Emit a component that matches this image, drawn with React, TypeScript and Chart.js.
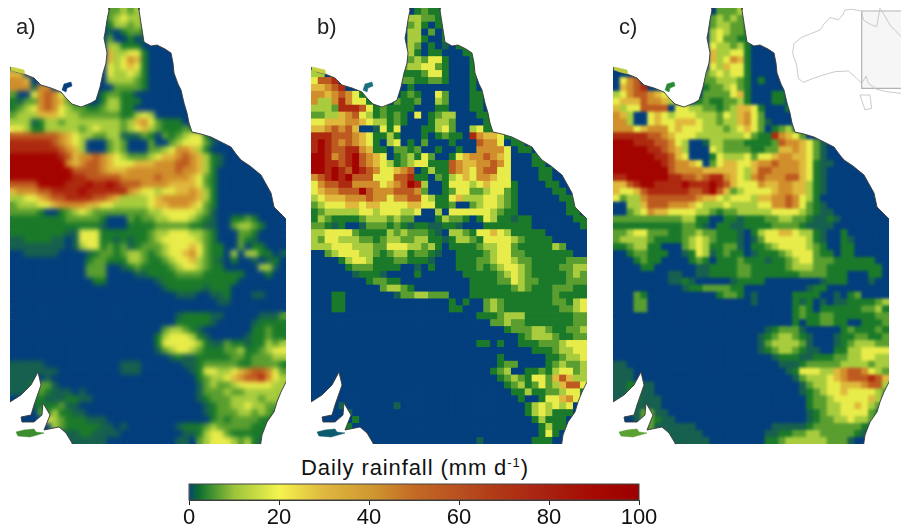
import React, { useEffect, useRef } from "react";
import { Chart, registerables } from "chart.js";

Chart.register(...registerables);

const COLS = 40;
const ROWS = 63;
const PANEL_W = 276;
const PANEL_H = 436;

const levelColors = ["#033e7d", "#17604f", "#1b7a2a", "#5a9e30", "#a8cc3e", "#e8ec4a", "#dfb83c", "#d08e2c", "#bd5a20", "#ad2a10", "#a30400"];
const levelChars = "0123456789X";

const panelARows = [
"0000000000 0000334343","0000000000 0000345443","0000000000 0000244343","0000000000 0000102332","0000000000 0000300201",
"0000000000 0000442220 0","0000000000 0000644552 0","0000000000 0000645762 0","0000000000 0000545652 0","6600000000 0000544542 0",
"7760000000 0000444432","7771770000 0000033332","3005787532 0002332200","2133787632 2002442220 0","2345787543 3223442200 0",
"3444666544 3333332245 4000","4441244344 4444443467 5322 2000","5542244444 3454443456 4322 2320","8888888765 4433441113 2032 3455 2","9999998765 4000343000 3003455531",
"9999999876 4000343000 3345776420","XXXXXXX986 7787654333 4566787642 1","XXXXXXXX76 7887655566 6777887642 1","XXXXXXXXX8 8887666777 7777877642","XXXXXXXXX9 9888887777 7877776532",
"8888XXXX99 9X99X98887 7776666532","6777889999 X999999765 5455667642","4455678899 9988764444 5677777642","3444556777 7665544444 5667776532","3333200234 5433333333 4455555431",
"2222222233 3332000323 3445554321 0022320","2222222222 2221000222 2333332211 0034432","2222222211 5552222222 3445554432 0003320","1122221101 5552212122 3455555432 0003210","1111111101 4552323123 3345556532 2003022",
"0011111000 0123323443 2345567532 2040442201","0000000000 0233222443 2234556432 1020010120","0000000000 0333001232 2223455432 2000004410","0000000000 0333000011 2222333322 2222000200","0000000000 0022000000 0122222222 2220000000",
"0000000000 0000000000 0012222212 2200000000","0000000000 0000000000 0000111001 1200011000","0000000000 0000000000 0000000000 1100000000","","0000000000 0000000000 0000122221 1000001113",
"0000000000 0000000000 0000222221 0000012222","0000000000 0000000000 0034432100 0000022322","0000000000 0000000000 0245554210 0000122322","0000000000 0000000000 0255555421 1322122434","0000000000 0000000000 0134554322 2334223455",
"0000000000 0000000000 0001211222 2233233344","1111100000 0000001110 0000011233 3332233332","1111111000 0000001110 0000001255 4456788753","1111010000 0000000000 0000000234 4567889754","1112331000 0000000000 0000000134 3345555544",
"1112321110 1000000000 0000000133 3433444444","0012211122 1100000000 0000000123 3344443443","0011222311 0000000000 0000000012 3344544333","0000324221 1000000000 0000000012 3334434322","0000054322 2111000000 0000000002 3233332221",
"0000004322 2221101000 0000122234 3333322200","1221111111 2211110000 0000011245 5322222000","1221111111 1111000000 0000110345 5543421000",
];

const panelBRows = [
"0000000000 0000023224","0000000000 0000443320","0000000000 0000342022","0000000000 0000440302","0000000000 0000442002",
"0000000000 0000430201 0222","0000000000 0000420220 0022 2","0000000000 0000343552 0002","0000000000 0003445532 0002","4400000000 0002223552 0002",
"5889000000 0003322332 0002","6678900000 0000200000 0002","7767875200 0002320053 00022","7447975520 0032230043 00022","4443999852 3222200022 00022",
"3344678542 3232050234 4000222","5566677654 4232000244 3000022","6678786001 5250002245 3004522","9998887652 2420002023 2209766522","9X98787652 0450203000 2000877502 2",
"9X98899762 2033230020 0200777750 22","XX9789X876 5023425300 2567787650 0022","XX9989X876 5423455222 8766778750 0022","XX9X98X987 5567802422 8765788550 00022","789X9X8885 5588922032 4565776550 00022",
"5788997777 5678X94002 5554565552 000022","5677888X87 7788873002 3553345532 0000022","4566677787 7577885422 5644455432 00000022","3455566566 5555665522 3003455432 000000022","2344444554 5554450040 5555554322 000000022",
"2432222344 4343300024 3320254221 2200000022","3321200133 3232122112 2100022222 2200000002","4455553222 2434333210 4432556542 2222000000","4355444332 3443344221 2443255554 3222200000","4445554443 3555443420 2222344553 2222243000",
"0034555443 2344233210 0222234553 3222222200","0000245542 2233222100 0222334554 3322222333","0000023332 2220010200 0222323455 4322223344","0000001222 1000020000 0022222345 4322222343","0000000023 3220000000 0002222335 4332222333",
"0000000000 3443200000 0002222223 4322233322","0002200000 0013344333 0002222222 2222232222","0002200000 0000000000 2020034322 2222233245","0002200000 0000000000 2200034322 2222223345","0000000000 0000000000 0000222344 4222222233",
"0000000000 0000000000 0000003343 3222222233","0000000000 0000000000 0000000023 3344322334","0000000000 0000000000 0000000000 2344432233","0000000000 0000000000 0000220200 2223334555","0000000000 0000000000 0000000000 0022234455",
"0000000000 0000000000 0000000200 0000223445","0000000000 0000000000 0000000233 0000234334","0000000000 0000000000 0000002340 0223245534","0000000000 0000000000 0000000234 3255368644","0000000000 0000000000 0000000023 4235346885",
"0000000000 0000000000 0000000002 2422334552","0000000000 0000000000 0000000000 2002556752","0000100000 0010000000 0000000000 0245454500","0000010000 0000000000 0000000000 0245422200","0000002000 0000000000 0000000000 0024222000",
"0000220000 0000000000 0000000000 0002422000","2200210000 0000000000 0000000000 0002520000","2210002000 0000000000 0000100000 0022200000",
];

const panelCRows = [
"0000000000 0000033342","0000000000 0000343432","0000000000 0000344332","0000000000 0000454332","0000000000 0000453322 0",
"0000000000 0000544342 0","0000000000 0000644552 00","0000000000 0000645762 0","0000000000 0000546552 0","0000000000 0003454552 0",
"0578000000 0003344432 02","0678900000 0002334532 0","4578876540 0003333562 00022","5666877640 0023223342 00022","6455888805 5443323466 5200 02",
"7640056545 5544435467 5300","7740056556 6654434467 5310","7775677756 5554443456 5302342","9999988765 5544444445 32297653","XXX9998875 4001443332 2223877653 1",
"XXXXX99876 4000543333 2233667653 1","XXXXXX9986 5000254445 3556776653 1","XXXXXXX987 7650356655 6778777652 11","XXXXXXXX87 7776666654 6887777652 10","99XXXXXX99 8878997654 7877788652 1",
"6689XX9999 X999X98655 5766776642 1","6556899999 9889X86345 5556776642 1","5344788888 8876654555 4667787542","0044688877 7654445444 4557787532 1","0034576655 5544323344 4445555432 11",
"3333333333 4422002212 2233443321 121","2222222222 3321022112 2223333211 11","3345533322 3343322210 2455665442 1002000000","3444432222 3454322210 1355555542 1002100000","2234422000 3454223310 2234555543 2002200000",
"0023322200 1254123220 1222345553 2202200000","0002322000 0232022232 2212234553 3322222200","0000220000 0011222233 2222234443 3222222220","0000000011 0011222233 2222222333 3222000220","0000000011 2100000122 2200000000 1222000100",
"0000000000 1223333220 0000000012 2000000000","0003200000 0000023320 1000002222 0010230000","0003300000 0000000000 1000002120 1011222234","0003300000 0000000000 0000002320 2222223342","0000000000 0000000000 0000002322 3322222233",
"0000000000 0000000000 0000002022 3322002223","0000000000 0000000000 0012333100 0002322232","0000000000 0000000000 0123443210 0012233223","0000000000 0000000000 0134444310 0012344433","0000000000 0000000000 0123443211 0022445555",
"0000000000 0000000000 0001222112 2233445544","1100000000 0000000000 0000111233 3334444344","1110000000 0000000000 0000012555 4467887543","1110000000 0000000000 0000001344 4567888986","1122110000 0000000000 0000000134 4556667884",
"1122110000 0000000000 0000000123 4556555543","1122111000 0000000000 0000000023 3455555642","0011111000 0000000000 0000000023 3445565432","0011331100 0000000000 0000000012 3445555320","0001332110 0000000000 0000000012 3344544310",
"0000231111 1100000000 0001111123 3333332100","3322121111 1110000000 0011223344 3333321000","1221122111 1111000000 0022344444 4333100000",
];

const gulfCoast = [[-5,-5],[99,-5],[99,2],[97,12],[95,25],[94,30],[97,45],[96,55],[93,65],[90,79],[86,92],[81,95],[71,99],[62,96],[56,90],[51,84],[41,80],[31,77],[24,70],[14,66],[6,64],[0,59],[-5,59]];
const eastCoast = [[129,-5],[129,2],[131,15],[134,34],[141,38],[147,37],[155,41],[161,45],[163,55],[164,65],[168,76],[171,82],[174,95],[177,105],[179,115],[182,124],[191,126],[201,129],[211,134],[221,139],[226,146],[231,152],[240,158],[251,167],[256,176],[261,185],[264,199],[270,205],[277,212],[285,212],[285,-5]];
const southEastCoast = [[285,364],[277,372],[271,384],[267,394],[264,404],[257,414],[252,427],[250,441],[285,441]];
const southGulfs = [[-5,396],[0,394],[11,387],[21,377],[28,364],[31,377],[24,397],[21,407],[11,409],[12,414],[24,414],[32,407],[33,395],[40,407],[34,422],[49,419],[56,425],[62,435],[63,441],[-5,441]];
const mask = [gulfCoast, eastCoast, southEastCoast, southGulfs];

const morningtonIsland = [[52,82],[54,76],[61,74],[62,78],[57,80],[56,84]];
const kangarooIsland = [[6,424],[14,422],[24,421],[26,424],[34,425],[20,429],[8,428]];
const wesselIslands = [[1,59],[6,60],[14,62],[15,66],[7,64],[1,62]];
const islands = [morningtonIsland, kangarooIsland, wesselIslands];
const islandColorsA = ["#033e7d", "#3d8c2e", "#c8d040"];
const islandColorsB = ["#1a6f7f", "#0e5a6e", "#c8d040"];
const islandColorsC = ["#2a8a35", "#5aa032", "#b8c840"];

const insetWest = [[245,33],[215,28],[195,30],[190,42],[175,60],[150,52],[130,75],[120,90],[95,100],[65,112],[42,130],[38,160],[50,195],[55,235],[70,247],[100,235],[130,225],[165,215],[205,213],[230,235],[245,250],[258,228],[265,250],[290,268],[320,275],[363,280]];
const insetNorth = [[245,33],[250,60],[275,75],[290,80],[300,25],[310,40],[330,75],[363,110]];
const insetTasmania = [[240,285],[270,285],[275,325],[255,330],[240,285]];
const insetBox = [[245,33],[370,33],[370,265],[245,265]];

const colorbarTicks = [0, 20, 40, 60, 80, 100];
const colorbarStops = [0, 0.02, 0.05, 0.1, 0.2, 0.3, 0.4, 0.5, 0.6, 0.7, 0.8, 0.9, 1];
const colorbarColors = ["#0a4478", "#0a6a30", "#3f9030", "#9cc33a", "#f4f44e", "#dfb73f", "#d09a30", "#c46a25", "#b8501f", "#b03515", "#a82010", "#a50a02", "#9c0000"];

const FONT = "'Liberation Sans', Arial, sans-serif";

const rasterBlur = {
  id: "rasterBlur",
  afterDatasetDraw(chart: any, args: any, opts: any) {
    if (args.index !== 0 || !opts.sigma) return;
    const { ctx, canvas } = chart;
    ctx.save();
    ctx.filter = `blur(${opts.sigma}px)`;
    ctx.drawImage(canvas, 0, 0, chart.width, chart.height);
    ctx.restore();
  },
};

const toXY = (pts: number[][]) => pts.map(([x, y]) => ({ x, y }));

function rasterPoints(rows: string[]) {
  const data: { x: number; y: number }[] = [];
  const colors: string[] = [];
  const cw = PANEL_W / COLS;
  const ch = PANEL_H / ROWS;
  rows.forEach((raw, r) => {
    const row = raw.replace(/ /g, "").padEnd(COLS, "0");
    for (let c = 0; c < COLS; c++) {
      data.push({ x: (c + 0.5) * cw, y: (r + 0.5) * ch });
      colors.push(levelColors[Math.max(0, levelChars.indexOf(row[c]))]);
    }
  });
  return { data, colors };
}

function Panel({ left, rows, sigma, islandColors, label }: any) {
  const ref = useRef<HTMLCanvasElement>(null);
  useEffect(() => {
    const { data, colors } = rasterPoints(rows);
    const chart = new Chart(ref.current as HTMLCanvasElement, {
      type: "scatter",
      data: {
        datasets: [
          { data, order: 3, pointStyle: "rect", pointRadius: 5.1, pointBorderWidth: 0, backgroundColor: colors, borderWidth: 0 } as any,
          ...mask.map((m) => ({ data: toXY(m), order: 2, showLine: true, fill: "shape", backgroundColor: "#ffffff", borderColor: "#3a3a3a", borderWidth: 0.9, pointRadius: 0, tension: 0 } as any)),
          ...islands.map((m, i) => ({ data: toXY([...m, m[0]]), order: 1, showLine: true, fill: "shape", backgroundColor: islandColors[i], borderColor: islandColors[i], borderWidth: 0.5, pointRadius: 0, tension: 0 } as any)),
        ],
      },
      options: {
        responsive: false,
        animation: false,
        events: [],
        layout: { padding: 0, autoPadding: false },
        scales: {
          x: { type: "linear", min: 0, max: PANEL_W, display: false },
          y: { type: "linear", min: 0, max: PANEL_H, reverse: true, display: false },
        },
        plugins: { legend: { display: false }, tooltip: { enabled: false }, rasterBlur: { sigma } } as any,
      },
      plugins: [rasterBlur],
    });
    return () => chart.destroy();
  }, []);
  return (
    <>
      <canvas ref={ref} width={PANEL_W} height={PANEL_H} style={{ position: "absolute", left, top: 8, width: PANEL_W, height: PANEL_H }} />
      <div style={{ position: "absolute", left: left + 6, top: 14, font: `22px ${FONT}`, color: "#222" }}>{label}</div>
    </>
  );
}

function Inset() {
  const ref = useRef<HTMLCanvasElement>(null);
  useEffect(() => {
    const line = (pts: number[][]) => ({ data: toXY(pts), showLine: true, borderColor: "#c4c4c4", borderWidth: 0.9, pointRadius: 0, tension: 0 });
    const chart = new Chart(ref.current as HTMLCanvasElement, {
      type: "scatter",
      data: {
        datasets: [
          { data: toXY([...insetBox, insetBox[0]]), order: 3, showLine: true, fill: "shape", backgroundColor: "#f6f6f6", borderColor: "#b4b4b4", borderWidth: 1.2, pointRadius: 0, tension: 0 } as any,
          line(insetWest),
          line(insetNorth),
          line(insetTasmania),
        ],
      },
      options: {
        responsive: false,
        animation: false,
        events: [],
        layout: { padding: 0, autoPadding: false },
        scales: {
          x: { type: "linear", min: 0, max: 363, display: false },
          y: { type: "linear", min: 0, max: 345, reverse: true, display: false },
        },
        plugins: { legend: { display: false }, tooltip: { enabled: false } },
      },
    });
    return () => chart.destroy();
  }, []);
  return <canvas ref={ref} width={121} height={115} style={{ position: "absolute", left: 780, top: 0, width: 121, height: 115 }} />;
}

function ColorBar() {
  const ref = useRef<HTMLCanvasElement>(null);
  useEffect(() => {
    const chart = new Chart(ref.current as HTMLCanvasElement, {
      type: "bar",
      data: {
        labels: ["rainfall"],
        datasets: [
          {
            data: [[colorbarTicks[0], colorbarTicks[colorbarTicks.length - 1]]],
            barPercentage: 1,
            categoryPercentage: 1,
            borderWidth: 0,
            backgroundColor: (c: any) => {
              const a = c.chart.chartArea;
              if (!a) return colorbarColors[0];
              const g = c.chart.ctx.createLinearGradient(a.left, 0, a.right, 0);
              colorbarStops.forEach((s, i) => g.addColorStop(s, colorbarColors[i]));
              return g;
            },
          } as any,
        ],
      },
      options: {
        indexAxis: "y",
        responsive: false,
        animation: false,
        events: [],
        layout: { padding: { left: 30, right: 30, top: 1, bottom: 0 } },
        scales: {
          x: {
            type: "linear",
            min: 0,
            max: 100,
            afterBuildTicks: (s: any) => { s.ticks = colorbarTicks.map((value) => ({ value })); },
            afterFit: (s: any) => { s.height = 31; },
            grid: { drawOnChartArea: false, drawTicks: true, tickLength: 5, color: "#222", lineWidth: 1 },
            border: { color: "#333", width: 1 },
            ticks: { color: "#111", font: { family: "'Liberation Sans'", size: 22 }, padding: 0, maxRotation: 0, autoSkip: false },
          },
          y: { display: false },
        },
        plugins: { legend: { display: false }, tooltip: { enabled: false } },
      } as any,
      plugins: [
        {
          id: "barFrame",
          afterDatasetsDraw(c: any) {
            const { ctx, chartArea: a } = c;
            ctx.save();
            ctx.strokeStyle = "#444";
            ctx.lineWidth = 1;
            ctx.strokeRect(a.left, a.top, a.right - a.left, a.bottom - a.top);
            ctx.restore();
          },
        },
      ],
    });
    return () => chart.destroy();
  }, []);
  return <canvas ref={ref} width={510} height={48} style={{ position: "absolute", left: 159, top: 483, width: 510, height: 48 }} />;
}

export default function App() {
  return (
    <div style={{ position: "absolute", left: 0, top: 0, width: 901, height: 531, background: "#fff", overflow: "hidden" }}>
      <Panel left={10} rows={panelARows} sigma={2.5} islandColors={islandColorsA} label="a)" />
      <Panel left={311} rows={panelBRows} sigma={0.5} islandColors={islandColorsB} label="b)" />
      <Panel left={613} rows={panelCRows} sigma={1.8} islandColors={islandColorsC} label="c)" />
      <Inset />
      <div style={{ position: "absolute", left: 301, top: 455, font: `22px ${FONT}`, letterSpacing: 0.9, color: "#111", whiteSpace: "nowrap" }}>
        Daily rainfall (mm d<sup style={{ fontSize: 13, lineHeight: 0 }}>-1</sup>)
      </div>
      <ColorBar />
    </div>
  );
}
